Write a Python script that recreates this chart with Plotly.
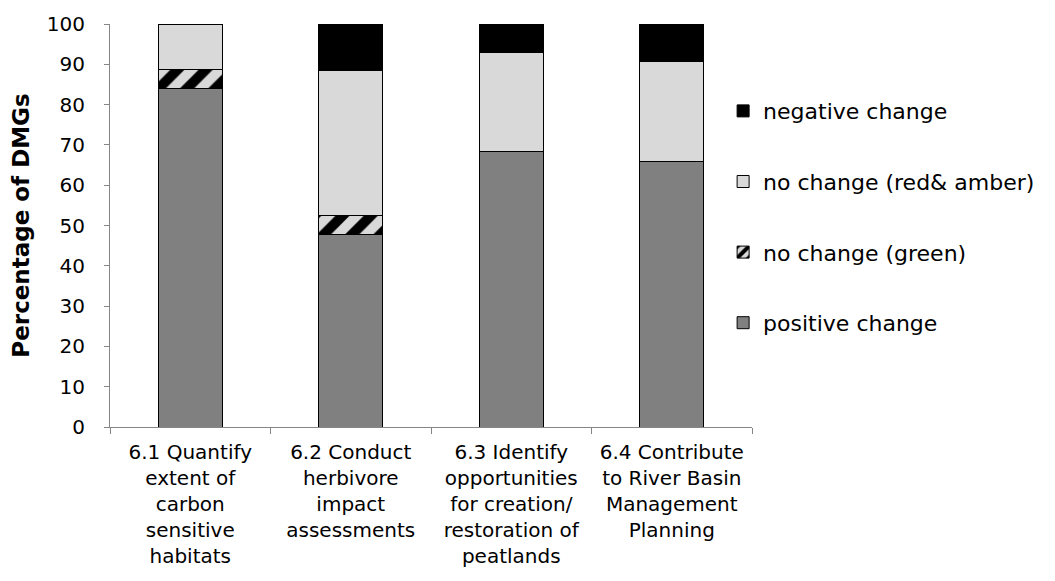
import plotly.graph_objects as go

# Objectives (x categories), one label per bar
categories = [
    "6.1 Quantify<br>extent of<br>carbon<br>sensitive<br>habitats",
    "6.2 Conduct<br>herbivore<br>impact<br>assessments",
    "6.3 Identify<br>opportunities<br>for creation/<br>restoration of<br>peatlands",
    "6.4 Contribute<br>to River Basin<br>Management<br>Planning",
]

# Percentage of DMGs in each outcome class
positive_change = [84.0, 47.7, 68.3, 65.9]
no_change_green = [4.8, 4.8, 0.0, 0.0]
no_change_red_amber = [11.2, 36.0, 24.6, 24.8]
negative_change = [0.0, 11.5, 7.1, 9.3]

font_family = "DejaVu Sans, Liberation Sans, sans-serif"
edge = dict(color="#000000", width=1)

fig = go.Figure()
fig.add_trace(go.Bar(
    x=categories, y=positive_change, name="positive change",
    legendgroup="a", legendrank=4,
    marker=dict(color="#808080", line=edge),
))
fig.add_trace(go.Bar(
    x=categories, y=no_change_green, name="no change (green)",
    legendgroup="b", legendrank=3,
    marker=dict(
        color="#000000", line=edge,
        pattern=dict(shape="/", fgcolor="#000000", bgcolor="#d9d9d9",
                     fgopacity=1, size=20, solidity=0.5, fillmode="replace"),
    ),
))
fig.add_trace(go.Bar(
    x=categories, y=no_change_red_amber, name="no change (red& amber)",
    legendgroup="c", legendrank=2,
    marker=dict(color="#d9d9d9", line=edge),
))
fig.add_trace(go.Bar(
    x=categories, y=negative_change, name="negative change",
    legendgroup="d", legendrank=1,
    marker=dict(color="#000000", line=edge),
))

fig.update_layout(
    width=1055, height=581,
    barmode="stack", bargap=0.6,
    paper_bgcolor="white", plot_bgcolor="white",
    margin=dict(l=110, r=303, t=19, b=154),
    font=dict(family=font_family, size=20, color="#000000"),
    showlegend=True,
    legend=dict(
        x=0.955, xanchor="left", y=0.836, yanchor="top",
        traceorder="grouped", tracegroupgap=39,
        font=dict(size=22, color="#000000"),
        bgcolor="rgba(0,0,0,0)", itemwidth=30,
    ),
    xaxis=dict(
        type="category", tickson="boundaries",
        showline=True, linecolor="#868686", linewidth=1,
        ticks="outside", ticklen=6, tickcolor="#868686",
        tickfont=dict(size=20), ticklabelstandoff=7,
        showgrid=False, zeroline=False,
    ),
    yaxis=dict(
        range=[0, 100], dtick=10,
        showline=True, linecolor="#868686", linewidth=1,
        ticks="outside", ticklen=5, tickcolor="#868686",
        tickfont=dict(size=20), ticklabelstandoff=15,
        showgrid=False, zeroline=False,
        title=dict(text="<b>Percentage of DMGs</b>", font=dict(size=23), standoff=10),
    ),
)

fig.write_html("out.html")
